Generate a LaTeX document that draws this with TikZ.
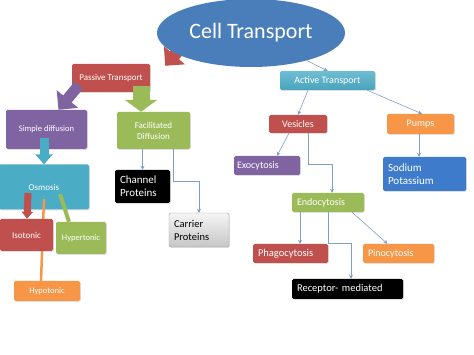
\documentclass[tikz,border=0pt]{standalone}
\usepackage{fontspec}
\setmainfont{Carlito}
\usetikzlibrary{shapes,arrows.meta,positioning,calc,shadows,backgrounds}
\definecolor{cellblue}{HTML}{4A7EBB}
\definecolor{pred}{HTML}{C0504D}
\definecolor{ppurple}{HTML}{8064A2}
\definecolor{pgreen}{HTML}{9BBB59}
\definecolor{pteal}{HTML}{4BACC6}
\definecolor{porange}{HTML}{F79646}
\definecolor{pblue}{HTML}{3E7CCB}
\definecolor{linkblue}{HTML}{7F9EC8}
\newcommand{\fsz}[2]{\fontsize{#1}{#2}\selectfont}

\begin{document}
\begin{tikzpicture}[x=1pt, y=-1pt,
  box/.style={rounded corners=1.5pt, text=white, align=center, inner sep=1pt,
    drop shadow={opacity=0.25, shadow xshift=0.8pt, shadow yshift=-0.8pt}},
  lbox/.style={box, align=left, inner xsep=5pt},
  arr/.style={-{Stealth[length=4pt, width=4pt]}, linkblue, semithick},
  blk/.style args={#1/#2/#3}{line width=#1, -{Triangle[width=#2, length=#3]}}
]
  \useasboundingbox (0,0) rectangle (474,355);
  % main title
  \node[ellipse, fill=cellblue, minimum width=188pt, minimum height=68pt, text=white, font=\fsz{22}{25}] (cell) at (251,33) {Cell Transport};
  % passive side
  \node[box, fill=pred, minimum width=78pt, minimum height=28pt, font=\fsz{9}{11}] (passive) at (111,78) {Passive Transport};
  \node[box, fill=ppurple, minimum width=81pt, minimum height=39pt, font=\fsz{8.5}{10}] (simple) at (46.5,129.5) {Simple diffusion};
  \node[box, fill=pgreen, minimum width=73pt, minimum height=37pt, font=\fsz{9}{11}] (facil) at (153.5,130.5) {Facilitated\\Diffusion};
  \node[box, fill=pteal, minimum width=90pt, minimum height=45pt, font=\fsz{9}{11}] (osmosis) at (44,187) {Osmosis};
  \node[box, fill=porange, minimum width=66pt, minimum height=20pt, font=\fsz{8.5}{10}] (hypo) at (47,291) {Hypotonic};
  \draw[porange, line width=2.5pt] ([shift={(0,12)}]osmosis.center) -- ([xshift=-6pt]hypo.north);
  \node[box, fill=pred, minimum width=53pt, minimum height=32pt, font=\fsz{9}{11}] (iso) at (26.5,235) {Isotonic};
  \node[box, fill=pgreen, minimum width=50pt, minimum height=32pt, font=\fsz{8.5}{10}] (hyper) at (81,238) {Hypertonic};
  \node[lbox, fill=black, text width=45pt, minimum height=33pt, font=\fsz{11}{13}] (channel) at (142.5,186.5) {Channel\\Proteins};
  \node[lbox, top color=gray!8, bottom color=gray!45, draw=gray!75, text=black, text width=50pt, minimum height=34pt, font=\fsz{10.5}{13}] (carrier) at (199,230) {Carrier\\Proteins};
  % active side
  \node[box, top color=pteal!80, bottom color=pteal!95!black, minimum width=95pt, minimum height=19pt, font=\fsz{10}{12}] (active) at (327.5,80.5) {Active Transport};
  \node[box, fill=pred, minimum width=58pt, minimum height=18pt, font=\fsz{10}{12}] (ves) at (298,124) {Vesicles};
  \node[box, fill=porange, minimum width=67pt, minimum height=20pt, font=\fsz{10}{12}] (pumps) at (420.5,124) {Pumps};
  \node[lbox, fill=ppurple, inner xsep=3pt, text width=60pt, minimum height=19pt, font=\fsz{10}{12}] (exo) at (267,165.5) {Exocytosis};
  \node[lbox, fill=pblue, text width=73pt, minimum height=34pt, font=\fsz{11}{13}] (sodium) at (424.5,174) {Sodium\\Potassium};
  \node[lbox, fill=pgreen, text width=62pt, minimum height=19pt, font=\fsz{10}{12}] (endo) at (328,202.5) {Endocytosis};
  \node[lbox, fill=pred, text width=65pt, minimum height=19pt, font=\fsz{10.5}{12}] (phago) at (290.5,253.5) {Phagocytosis};
  \node[lbox, fill=porange, text width=61pt, minimum height=19pt, font=\fsz{10}{12}] (pino) at (398.5,253.5) {Pinocytosis};
  \node[lbox, fill=black, text width=101pt, minimum height=20pt, font=\fsz{10.5}{12}] (receptor) at (347.5,289) {Receptor- mediated};
  % block arrows
  \begin{scope}[on background layer]
    \draw[pred, blk=12pt/27pt/14pt] ([shift={(-66,10)}]cell.center) -- ([shift={(15,2)}]passive.north east);
  \end{scope}
  \draw[ppurple, blk=11pt/27pt/14pt] ([shift={(7,-7)}]passive.south west) -- ([xshift=12pt]simple.north);
  \draw[pgreen, blk=17pt/32pt/12pt] ([shift={(30,-6)}]passive.south) -- ([xshift=-12.5pt]facil.north);
  \draw[pteal, blk=9pt/17pt/10pt] ([shift={(-2.5,-11)}]simple.south) -- (osmosis.north);
  \draw[pred, blk=7pt/11pt/7pt] ([shift={(-16,6)}]osmosis.center) -- ([xshift=0.5pt]iso.north);
  \draw[pgreen, line width=4pt] ([shift={(16,7)}]osmosis.center) -- ([xshift=-12pt]hyper.north);
  % thin connectors
  \draw[arr] (facil.south -| channel.north) -- (channel.north);
  \draw[arr] ([xshift=19.5pt]facil.south) -- ++(0,32) -| (carrier.north);
  \draw[arr] (cell) -- (active.north);
  \draw[arr] ([xshift=-19.5pt]active.south) -- (ves.north);
  \draw[arr] ([xshift=-8pt]active.south east) -- ([xshift=1.5pt]pumps.north);
  \draw[arr] ([xshift=-9pt]ves.south) -- ([xshift=10pt]exo.north);
  \draw[arr] ([xshift=10pt]ves.south) -- ++(0,31) -| ([xshift=4pt]endo.north);
  \draw[arr] ([xshift=-1.5pt]pumps.south) -- ([xshift=-1.5pt]pumps.south |- sodium.north);
  \draw[arr] ([xshift=-28pt]endo.south) -- ([xshift=-28pt]endo.south |- phago.north);
  \draw[arr] (endo.south) -- (endo.south |- phago.north) -| ([xshift=3.5pt]receptor.north);
  \draw[arr] ([xshift=24pt]endo.south) -- ([xshift=-11pt]pino.north);
\end{tikzpicture}
\end{document}
